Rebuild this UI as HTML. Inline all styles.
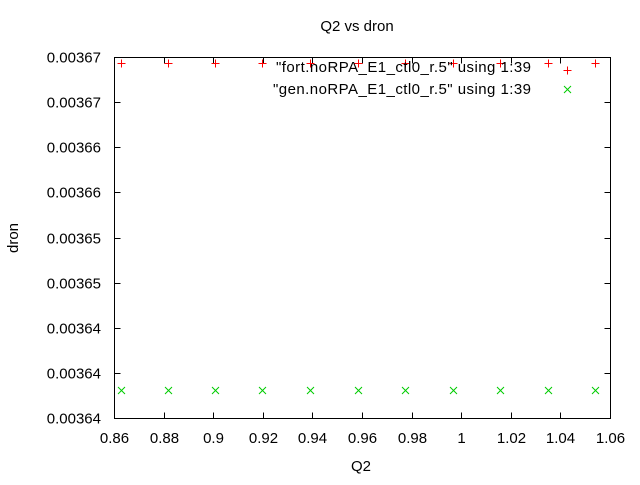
<!DOCTYPE html>
<html><head><meta charset="utf-8"><style>
html,body{margin:0;padding:0;background:#fff}
svg text{font-family:"Liberation Sans",sans-serif;font-size:15px;fill:#000}
</style></head><body>
<svg id="chart" width="640" height="480" xmlns="http://www.w3.org/2000/svg">
<text x="357" y="31" text-anchor="middle">Q2 vs dron</text>
<text x="361" y="471" text-anchor="middle">Q2</text>
<text x="18" y="238" text-anchor="middle" transform="rotate(-90 18 238)">dron</text>
<rect x="114.5" y="57.5" width="496" height="361" fill="none" stroke="#000" stroke-width="1"/>
<g id="ticks"></g>
<g id="marks"></g>
<g>
<text x="276" y="72" textLength="255" lengthAdjust="spacing">"fort.noRPA_E1_ctl0_r.5" using 1:39</text>
<text x="273" y="94" textLength="258" lengthAdjust="spacing">"gen.noRPA_E1_ctl0_r.5" using 1:39</text>
<path d="M563.5 70.5h8M567.5 66.5v8" stroke="#f00" stroke-width="1"/>
<path d="M564 86l7 7M571 86l-7 7" stroke="#0c0" stroke-width="1"/>
</g>
</svg>
<script>
const xTicks=[0.86,0.88,0.9,0.92,0.94,0.96,0.98,1,1.02,1.04,1.06];
const xTickLabels=["0.86","0.88","0.9","0.92","0.94","0.96","0.98","1","1.02","1.04","1.06"];
const yTicks=[0.003635,0.00364,0.003645,0.00365,0.003655,0.00366,0.003665,0.00367,0.003675];
const yTickLabels=["0.00364","0.00364","0.00364","0.00365","0.00365","0.00366","0.00366","0.00367","0.00367"];
const q2=[0.8628,0.8818,0.9007,0.9197,0.939,0.9584,0.9773,0.9967,1.0156,1.035,1.054];
const fortDron=[0.0036743,0.0036743,0.0036743,0.0036743,0.0036743,0.0036743,0.0036743,0.0036743,0.0036743,0.0036743,0.0036743];
const genDron=[0.0036381,0.0036381,0.0036381,0.0036381,0.0036381,0.0036381,0.0036381,0.0036381,0.0036381,0.0036381,0.0036381];
const X0=114.5,X1=610.5,Y0=418.5,Y1=57.5;
const xMin=0.86,xMax=1.06,yMin=0.003635,yMax=0.003675;
const sx=v=>X0+(v-xMin)/(xMax-xMin)*(X1-X0);
const sy=v=>Y0-(v-yMin)/(yMax-yMin)*(Y0-Y1);
const NS="http://www.w3.org/2000/svg";
const tg=document.getElementById('ticks'),mg=document.getElementById('marks');
function mk(tag,attrs,parent){const e=document.createElementNS(NS,tag);for(const k in attrs)e.setAttribute(k,attrs[k]);parent.appendChild(e);return e;}
xTicks.forEach((v,i)=>{const x=Math.round(sx(v)-0.5)+0.5;
 const t=mk('path',{d:`M${x} ${Y0}v-6M${x} ${Y1}v6`,stroke:'#000'},tg);
 
 
 const l=mk('text',{x:x,y:443,'text-anchor':'middle'},tg);l.textContent=xTickLabels[i];
 
 
});
yTicks.forEach((v,i)=>{const y=Math.round(sy(v)-0.5)+0.5;
 const t=mk('path',{d:`M${X0} ${y}h6M${X1} ${y}h-6`,stroke:'#000'},tg);
 
 
 const l=mk('text',{x:101,y:y+5,'text-anchor':'end'},tg);l.textContent=yTickLabels[i];
 
 
});
q2.forEach((q,i)=>{const x=Math.round(sx(q)-0.5)+0.5;
 let y=Math.round(sy(fortDron[i])-0.5)+0.5;
 const p=mk('path',{d:`M${x-4} ${y}h8M${x} ${y-4}v8`,stroke:'#f00'},mg);
 
 
 y=sy(genDron[i]);
 const g=mk('path',{d:`M${x-3.5} ${y-3.5}l7 7M${x+3.5} ${y-3.5}l-7 7`,stroke:'#0c0'},mg);
 
 
});
</script>
</body></html>
